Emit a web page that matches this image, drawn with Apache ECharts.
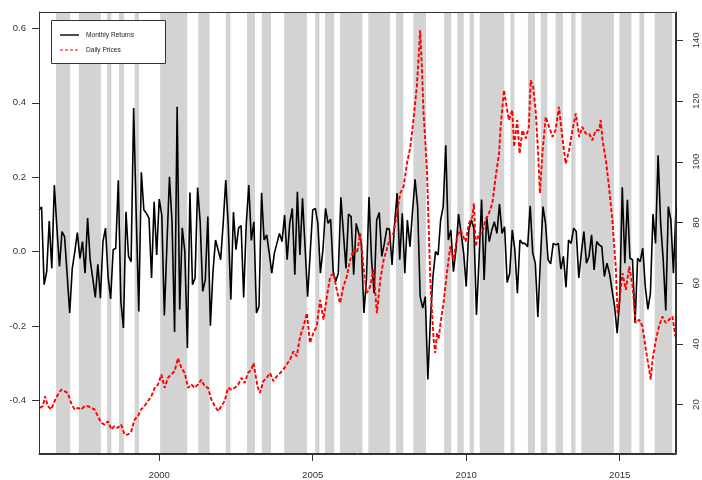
<!DOCTYPE html>
<html><head><meta charset="utf-8">
<script src="https://cdn.jsdelivr.net/npm/echarts@6/dist/echarts.min.js"></script>
<style>html,body{margin:0;padding:0;background:#fff}#c{width:702px;height:480px}</style>
</head><body><div id="c"></div>
<script>
// ---------------- data ----------------
const startYear = 1996 + 1 / 12;   // first monthly observation
const endYear = 2016 + 10 / 12;    // last monthly observation

const monthlyReturns = [
  0.112, 0.12, -0.089, -0.054, 0.082, -0.045, 0.179, 0.063, -0.04, 0.054,
  0.04, -0.062, -0.165, -0.045, 0.0, 0.051, -0.018, 0.027, -0.058, 0.09,
  -0.022, -0.071, -0.123, -0.034, -0.125, 0.027, 0.063, -0.067, -0.127, 0.005,
  0.009, 0.192, -0.134, -0.205, 0.107, -0.013, -0.027, 0.386, 0.1, -0.161,
  0.213, 0.112, 0.103, 0.09, -0.071, 0.134, -0.009, 0.141, 0.098, -0.172,
  0.018, 0.201, 0.08, -0.216, 0.389, -0.156, 0.064, 0.0, -0.259, 0.159,
  -0.089, -0.071, 0.172, 0.08, -0.107, -0.076, 0.094, -0.199, -0.054, 0.031,
  0.005, -0.022, 0.076, 0.192, 0.067, -0.129, 0.106, 0.005, 0.063, 0.07,
  -0.123, 0.072, 0.179, 0.03, 0.08, -0.165, -0.147, 0.158, 0.031, 0.045,
  -0.004, -0.058, -0.004, 0.022, 0.049, 0.027, 0.098, -0.022, 0.076, 0.116,
  -0.062, 0.161, -0.009, 0.143, 0.013, -0.121, -0.004, 0.112, 0.116, 0.076,
  -0.058, 0.005, 0.116, 0.076, 0.087, -0.054, -0.08, -0.058, 0.146, 0.049,
  -0.045, 0.101, 0.094, -0.062, 0.076, 0.049, 0.022, -0.165, -0.076, 0.147,
  -0.022, -0.112, 0.085, 0.105, -0.013, 0.022, 0.063, 0.06, -0.036, 0.076,
  0.157, -0.022, 0.103, -0.058, 0.085, 0.013, 0.107, 0.194, 0.121, -0.121,
  -0.152, -0.121, -0.344, -0.183, -0.067, 0.0, -0.009, 0.085, 0.121, 0.286,
  0.031, 0.058, -0.054, 0.005, 0.101, 0.049, -0.004, -0.094, 0.058, 0.085,
  0.063, -0.17, -0.022, 0.14, -0.076, 0.094, 0.027, 0.058, 0.08, 0.049,
  0.128, 0.049, 0.067, -0.083, -0.058, 0.058, 0.005, -0.112, 0.031, 0.022,
  0.022, 0.013, 0.123, -0.004, -0.031, -0.176, -0.022, 0.121, 0.076, -0.022,
  -0.033, 0.022, 0.018, 0.022, -0.047, -0.013, -0.096, 0.031, 0.022, 0.063,
  0.054, -0.071, -0.004, 0.054, -0.031, -0.013, 0.045, -0.049, 0.027, 0.018,
  0.013, -0.067, -0.031, -0.058, -0.103, -0.147, -0.219, -0.129, 0.173, -0.031,
  0.139, -0.018, -0.022, -0.192, -0.018, -0.027, 0.009, -0.094, -0.155, -0.112,
  0.101, 0.022, 0.259, 0.076, -0.022, -0.158, 0.121, 0.085, -0.058, 0.12
];

// [decimal year, price]
const dailyPrices = [
  [1996.10,18.9],[1996.21,19.5],[1996.28,22.7],[1996.37,19.5],[1996.48,18.4],[1996.59,21.1],[1996.70,23.3],[1996.81,24.9],[1996.91,24.4],
  [1997.02,23.8],[1997.13,20.5],[1997.24,18.4],[1997.35,18.9],[1997.46,18.4],[1997.57,19.5],[1997.68,19.5],[1997.78,18.9],[1997.89,18.4],
  [1998.00,16.2],[1998.11,14.0],[1998.22,13.4],[1998.33,14.5],[1998.44,11.8],[1998.54,12.9],[1998.65,12.3],[1998.76,13.4],[1998.87,10.1],[1998.98,10.1],
  [1999.09,11.2],[1999.20,15.1],[1999.31,16.2],[1999.41,18.4],[1999.52,19.5],[1999.63,21.1],[1999.74,22.7],[1999.85,25.5],[1999.96,26.6],
  [2000.07,29.9],[2000.18,25.5],[2000.28,28.8],[2000.39,29.9],[2000.50,31.0],[2000.61,35.3],[2000.72,32.1],[2000.83,30.4],[2000.94,25.5],
  [2001.05,26.6],[2001.15,25.5],[2001.26,26.6],[2001.37,28.2],[2001.48,26.0],[2001.59,25.5],[2001.70,21.6],[2001.81,19.5],[2001.92,17.8],
  [2002.02,19.5],[2002.13,21.1],[2002.24,25.5],[2002.35,24.9],[2002.46,25.5],[2002.57,26.6],[2002.68,28.8],[2002.78,27.1],[2002.89,30.4],[2003.00,31.5],
  [2003.07,33.7],[2003.12,34.2],[2003.20,26.0],[2003.28,23.8],[2003.39,27.7],[2003.50,28.8],[2003.61,30.4],[2003.72,27.7],[2003.83,29.3],[2003.94,30.4],
  [2004.04,31.5],[2004.15,33.2],[2004.26,34.8],[2004.37,37.5],[2004.48,35.9],[2004.59,42.5],[2004.70,45.8],[2004.81,50.1],[2004.91,40.3],
  [2005.02,43.6],[2005.13,45.8],[2005.24,54.5],[2005.35,48.0],[2005.46,55.6],[2005.57,62.2],[2005.68,63.3],[2005.78,57.8],[2005.89,53.4],
  [2006.00,58.9],[2006.11,62.2],[2006.22,67.7],[2006.33,71.0],[2006.44,69.9],[2006.55,76.4],[2006.65,65.5],[2006.76,56.7],[2006.87,58.9],[2006.98,64.4],
  [2007.09,50.1],[2007.20,61.1],[2007.31,67.7],[2007.41,71.0],[2007.52,75.3],[2007.63,76.4],[2007.74,83.0],[2007.85,89.6],[2007.96,91.8],
  [2008.07,99.5],[2008.18,104.9],[2008.28,113.7],[2008.39,124.7],[2008.45,134.5],[2008.50,143.3],[2008.56,130.1],[2008.61,115.9],[2008.66,108.2],
  [2008.72,97.3],[2008.77,80.8],[2008.83,61.1],[2008.88,51.2],[2008.94,41.4],[2008.99,37.0],
  [2009.05,43.6],[2009.10,41.4],[2009.15,45.8],[2009.21,50.1],[2009.26,53.4],[2009.37,63.3],[2009.48,72.1],[2009.59,67.7],[2009.70,75.3],[2009.81,77.5],[2009.87,77.5],
  [2009.98,73.7],[2010.09,79.7],[2010.20,81.9],[2010.25,86.3],[2010.31,72.1],[2010.41,76.4],[2010.52,76.4],[2010.63,80.8],[2010.74,83.0],[2010.85,86.3],[2010.96,95.1],
  [2011.07,102.7],[2011.12,111.5],[2011.23,123.6],[2011.28,120.3],[2011.39,113.7],[2011.50,117.0],[2011.56,104.9],[2011.66,113.7],[2011.74,102.7],[2011.83,110.4],[2011.94,107.7],
  [2012.04,111.5],[2012.10,126.8],[2012.18,124.7],[2012.26,117.0],[2012.35,101.6],[2012.40,89.6],[2012.48,102.7],[2012.59,114.8],[2012.70,111.5],[2012.81,108.2],[2012.91,110.4],
  [2013.02,118.1],[2013.13,108.2],[2013.24,99.4],[2013.35,103.8],[2013.46,110.4],[2013.57,115.9],[2013.68,108.2],[2013.78,111.5],[2013.89,109.3],
  [2014.00,109.3],[2014.11,107.1],[2014.22,110.4],[2014.33,110.4],[2014.38,113.7],[2014.44,107.1],[2014.55,100.5],[2014.65,91.8],[2014.76,80.8],[2014.87,65.5],[2014.93,50.1],[2014.98,53.4],
  [2015.09,63.3],[2015.20,57.8],[2015.31,65.5],[2015.42,58.9],[2015.52,46.9],[2015.63,48.0],[2015.74,45.8],[2015.85,38.1],[2015.96,31.5],
  [2016.01,28.2],[2016.07,34.8],[2016.18,41.4],[2016.28,45.8],[2016.39,49.0],[2016.50,46.9],[2016.61,48.0],[2016.72,49.0],[2016.81,42.5]
];

const bandStarts = [1996.64,1997.38,1998.30,1998.69,1999.20,2000.03,2001.27,2002.17,2002.86,2003.34,2004.07,2005.08,2005.40,2005.89,2006.81,2007.71,2008.28,2009.28,2009.71,2010.11,2010.44,2011.44,2012.01,2012.43,2012.91,2013.42,2013.75,2014.99,2015.64,2016.14];
const bandEnds   = [1997.10,1998.10,1998.44,1998.85,1999.34,2000.91,2001.64,2002.32,2003.12,2003.64,2004.81,2005.22,2005.70,2006.62,2007.52,2007.95,2008.69,2009.51,2009.92,2010.25,2011.24,2011.57,2012.24,2012.64,2013.15,2013.56,2014.81,2015.38,2015.80,2016.71];

const xTicks = [2000, 2005, 2010, 2015];
const leftTicks = [-0.4, -0.2, 0.0, 0.2, 0.4, 0.6];
const rightTicks = [20, 40, 60, 80, 100, 120, 140];
const seriesNames = ['Monthly Returns', 'Daily Prices'];

// ---------------- chart ----------------
const FONT = '"Liberation Sans", Arial, Helvetica, sans-serif';
const AX = '#333';
const chart = echarts.init(document.getElementById('c'), null, { renderer: 'canvas' });
const bandData = bandStarts.map((s, i) => [{ xAxis: s }, { xAxis: bandEnds[i] }]);
const labelBase = { fontSize: 9.6, color: AX, fontFamily: FONT };
const blackStyle = { color: '#000', width: 1.6 };
const redStyle = { color: '#ff0000', width: 1.9, type: [4, 2] };

chart.setOption({
  animation: false,
  backgroundColor: '#fff',
  grid: { left: 39, top: 12, right: 26, bottom: 26, show: false },
  xAxis: {
    type: 'value', min: startYear, max: endYear,
    axisLine: { show: true, onZero: false, lineStyle: { color: AX } },
    axisTick: { show: true, customValues: xTicks, length: 7, lineStyle: { color: AX } },
    axisLabel: Object.assign({ customValues: xTicks, margin: 16, formatter: v => String(Math.round(v)) }, labelBase),
    splitLine: { show: false }
  },
  yAxis: [
    {
      type: 'value', position: 'left', min: -0.544, max: 0.644,
      axisLine: { show: true, onZero: false, lineStyle: { color: AX } },
      axisTick: { show: true, customValues: leftTicks, length: 7, lineStyle: { color: AX } },
      axisLabel: Object.assign({ customValues: leftTicks, margin: 13, formatter: v => v.toFixed(1) }, labelBase),
      splitLine: { show: false }
    },
    {
      type: 'value', position: 'right', min: 3.71, max: 149.34,
      axisLine: { show: true, onZero: false, lineStyle: { color: AX } },
      axisTick: { show: true, customValues: rightTicks, length: 7, lineStyle: { color: AX } },
      axisLabel: Object.assign({ customValues: rightTicks, margin: 15, rotate: 90, formatter: v => String(Math.round(v)) }, labelBase),
      splitLine: { show: false }
    }
  ],
  series: [
    {
      type: 'line', name: 'bands', data: [], z: 1, silent: true,
      markArea: { silent: true, itemStyle: { color: '#d3d3d3', opacity: 1 }, data: bandData }
    },
    {
      type: 'line', name: seriesNames[0], yAxisIndex: 0, z: 2, symbol: 'none', showSymbol: false,
      color: '#000', lineStyle: blackStyle,
      data: monthlyReturns.map((v, i) => [startYear + i / 12, v])
    },
    {
      type: 'line', name: seriesNames[1], yAxisIndex: 1, z: 3, symbol: 'none', showSymbol: false,
      color: '#ff0000', lineStyle: redStyle,
      data: dailyPrices
    }
  ],
  graphic: [
    { type: 'rect', z: 10, silent: true, shape: { x: 39.5, y: 12.5, width: 636, height: 441 }, style: { fill: null, stroke: AX, lineWidth: 1 } },
    { type: 'rect', z: 15, silent: true, shape: { x: 51.5, y: 20.5, width: 114, height: 43 }, style: { fill: '#fff', stroke: AX, lineWidth: 1 } },
    { type: 'line', z: 16, silent: true, shape: { x1: 60, y1: 35, x2: 79, y2: 35 }, style: { stroke: blackStyle.color, lineWidth: 1.4 } },
    { type: 'line', z: 16, silent: true, shape: { x1: 60, y1: 50, x2: 79, y2: 50 }, style: { stroke: redStyle.color, lineWidth: 1.2, lineDash: [3, 2] } },
    { type: 'text', z: 16, silent: true, style: { x: 86, y: 35, text: seriesNames[0], fontSize: 6.6, fontFamily: FONT, fill: '#222', verticalAlign: 'middle' } },
    { type: 'text', z: 16, silent: true, style: { x: 86, y: 50, text: seriesNames[1], fontSize: 6.6, fontFamily: FONT, fill: '#222', verticalAlign: 'middle' } }
  ]
});
</script>
</body></html>
